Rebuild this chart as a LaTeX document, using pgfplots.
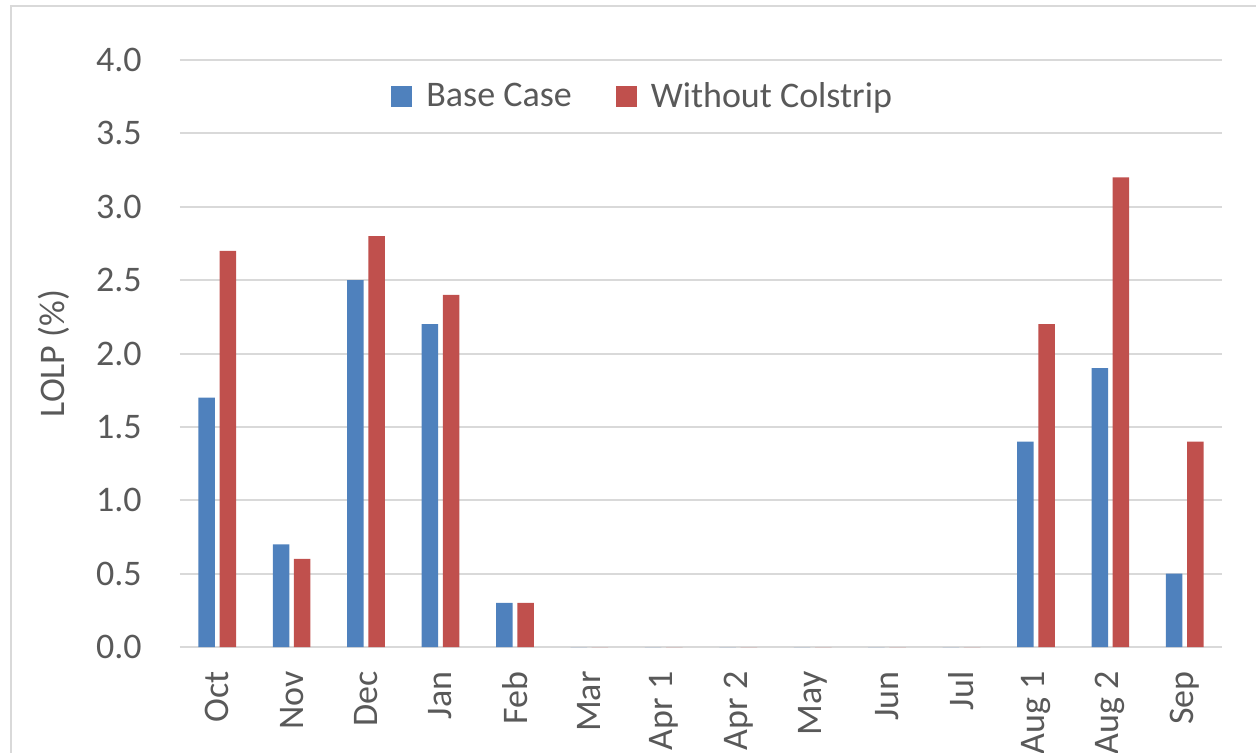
\documentclass[border=0pt]{standalone}
\usepackage{fontspec}
\setmainfont{Carlito}
\usepackage{pgfplots}
\pgfplotsset{compat=1.18}
\definecolor{barblue}{HTML}{4F81BD}
\definecolor{barred}{HTML}{C0504D}
\definecolor{gridgray}{HTML}{D9D9D9}
\definecolor{textgray}{HTML}{595959}
\begin{document}
\begin{tikzpicture}[x=1pt,y=1pt]
\path[use as bounding box] (-90,-52.5) rectangle (538,323.5);
\clip (-90,-52.5) rectangle (538,323.5);
\draw[gridgray, line width=1pt] (-84.5,-80) rectangle (560,320.75);
\begin{axis}[
  at={(0,0)}, anchor=south west,
  scale only axis, width=521pt, height=293.5pt,
  ybar, bar width=8.25pt,
  xmin=-0.5, xmax=13.5, ymin=0, ymax=4,
  xtick={0,...,13},
  xticklabels={Oct,Nov,Dec,Jan,Feb,Mar,Apr 1,Apr 2,May,Jun,Jul,Aug 1,Aug 2,Sep},
  ytick={0,0.5,1,1.5,2,2.5,3,3.5,4},
  yticklabels={0.0,0.5,1.0,1.5,2.0,2.5,3.0,3.5,4.0},
  axis x line=bottom, axis y line=left,
  x axis line style={gridgray, line width=1pt, -},
  y axis line style={draw=none},
  major tick length=0pt,
  ymajorgrids, major grid style={gridgray, line width=1pt},
  tick label style={font=\fontsize{18}{22}\selectfont, text=textgray, inner sep=0pt},
  xticklabel style={rotate=90, anchor=east},
  xticklabel shift=12pt,
  yticklabel style={anchor=east},
  yticklabel shift=19pt,
  ylabel={LOLP (\%)},
  ylabel style={at={(axis description cs:-0.121,0.5)}, anchor=center, font=\fontsize{18}{22}\selectfont, text=textgray},
  legend style={at={(axis description cs:0.445,0.938)}, anchor=center, draw=none, fill=none,
    legend columns=2, font=\fontsize{18}{22}\selectfont, text=textgray,
    /tikz/every odd column/.append style={column sep=5pt},
    /tikz/every even column/.append style={column sep=20pt}},
  legend image code/.code={\fill[#1] (0pt,-5.25pt) rectangle (10.5pt,5.25pt);},
]
\addplot[fill=barblue, draw=none, bar shift=-5.3pt] coordinates {
(0,1.7) (1,0.7) (2,2.5) (3,2.2) (4,0.3) (5,0) (6,0) (7,0) (8,0) (9,0) (10,0) (11,1.4) (12,1.9) (13,0.5)};
\addplot[fill=barred, draw=none, bar shift=5.3pt] coordinates {
(0,2.7) (1,0.6) (2,2.8) (3,2.4) (4,0.3) (5,0) (6,0) (7,0) (8,0) (9,0) (10,0) (11,2.2) (12,3.2) (13,1.4)};
\legend{Base Case, Without Colstrip}
\end{axis}
\end{tikzpicture}
\end{document}
